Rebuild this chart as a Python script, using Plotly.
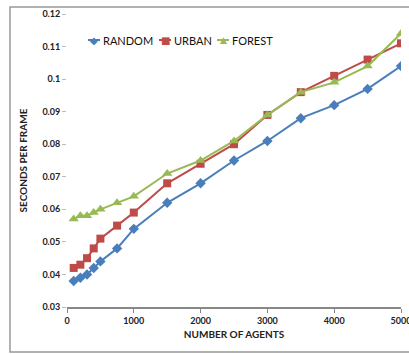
import plotly.graph_objects as go

agents = [100, 200, 300, 400, 500, 750, 1000, 1500, 2000, 2500, 3000, 3500, 4000, 4500, 5000]
random_s = [0.038, 0.039, 0.040, 0.042, 0.044, 0.048, 0.054, 0.062, 0.068, 0.075, 0.081, 0.088, 0.092, 0.097, 0.104]
urban_s = [0.042, 0.043, 0.045, 0.048, 0.051, 0.055, 0.059, 0.068, 0.074, 0.080, 0.089, 0.096, 0.101, 0.106, 0.111]
forest_s = [0.057, 0.058, 0.058, 0.059, 0.060, 0.062, 0.064, 0.071, 0.075, 0.081, 0.089, 0.096, 0.099, 0.104, 0.114]
x_ticks = [0, 1000, 2000, 3000, 4000, 5000]
y_ticks = [0.03, 0.04, 0.05, 0.06, 0.07, 0.08, 0.09, 0.1, 0.11, 0.12]
y_labels = ["0.03", "0.04", "0.05", "0.06", "0.07", "0.08", "0.09", "0.1", "0.11", "0.12"]

FONT = "Lato"
fig = go.Figure()
series = [
    ("RANDOM", random_s, "#4A7EBB", "diamond", 8, "\u25C6"),
    ("URBAN", urban_s, "#BE4B48", "square", 8, "\u25A0"),
    ("FOREST", forest_s, "#98B954", "triangle-up", 9, "\u25B2"),
]
for name, ys, col, sym, sz, _g in series:
    fig.add_trace(go.Scatter(
        x=agents, y=ys, name=name, mode="lines+markers",
        line=dict(color=col, width=2),
        marker=dict(symbol=sym, size=sz, color=col),
        showlegend=False,
    ))

W, H = 409, 354
L, R, T, B = 67, 8, 14, 47
pw, ph = W - L - R, H - T - B

def px(x):
    return (x - L) / pw

def py(y):
    return (H - B - y) / ph

shapes = [dict(type="rect", xref="paper", yref="paper",
               x0=px(10), x1=px(412), y0=py(352), y1=py(7),
               line=dict(color="#999", width=1.5), layer="below")]
annotations = []
# legend (drawn manually for compact Excel-like spacing)
leg_y = 40
leg_starts = [88, 159, 217]
for (name, ys, col, sym, sz, glyph), x0 in zip(series, leg_starts):
    shapes.append(dict(type="line", xref="paper", yref="paper",
                       x0=px(x0), x1=px(x0 + 12), y0=py(leg_y), y1=py(leg_y),
                       line=dict(color=col, width=2)))
    annotations.append(dict(xref="paper", yref="paper", x=px(x0 + 6), y=py(leg_y),
                            text=glyph, showarrow=False, xanchor="center", yanchor="middle",
                            font=dict(family="DejaVu Sans", size=10 if glyph != "\u25B2" else 9, color=col)))
    annotations.append(dict(xref="paper", yref="paper", x=px(x0 + 13), y=py(leg_y),
                            text=name, showarrow=False, xanchor="left", yanchor="middle",
                            font=dict(family=FONT, size=11, color="#111")))

fig.update_layout(
    width=W, height=H,
    margin=dict(l=L, r=R, t=T, b=B, autoexpand=False),
    paper_bgcolor="white", plot_bgcolor="white",
    font=dict(family=FONT, size=9, color="#222"),
    showlegend=False,
    xaxis=dict(range=[0, 5000], tickvals=x_ticks, ticktext=["<b>%d</b>" % v for v in x_ticks],
               showgrid=False, zeroline=False, showline=True, linecolor="#888", linewidth=2,
               ticks="outside", ticklen=4, tickcolor="#888", tickwidth=1,
               ticklabeloverflow="allow", automargin=False,
               tickfont=dict(family=FONT, size=9, color="#222"),
               title=dict(text="<b>NUMBER OF AGENTS</b>", font=dict(family=FONT, size=10, color="#222"), standoff=6)),
    yaxis=dict(range=[0.03, 0.12], tickvals=y_ticks, ticktext=["<b>%s</b>" % t for t in y_labels],
               showgrid=False, zeroline=False, showline=False, automargin=False,
               ticks="outside", ticklen=4, tickcolor="#bbb", tickwidth=1,
               tickfont=dict(family=FONT, size=9, color="#222"),
               title=dict(text="<b>SECONDS PER FRAME</b>", font=dict(family=FONT, size=10, color="#222"), standoff=12)),
    shapes=shapes,
    annotations=annotations,
)
fig.write_html("out.html")
